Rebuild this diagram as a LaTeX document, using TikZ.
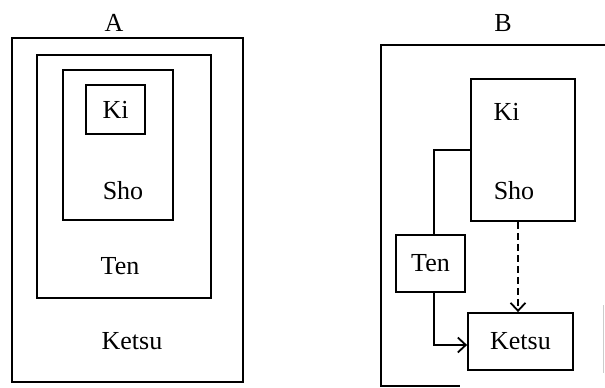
\documentclass[tikz,border=0pt]{standalone}
\usepackage{fontspec}
\setmainfont{Liberation Serif}
\usetikzlibrary{arrows.meta}
\begin{document}
\begin{tikzpicture}[x=1pt,y=-1pt,
  every node/.style={font=\fontsize{26}{30}\selectfont},
  boxa/.style={draw,line width=1.8pt,rectangle,inner sep=0pt},
  lbl/.style={inner sep=0pt},
  conn/.style={line width=1.8pt},
  arr/.style={line width=1.8pt,-{Straight Barb[length=8pt,width=15pt,line width=1.8pt]}}]
\useasboundingbox (0,0) rectangle (605,388);
% Panel A
\node[lbl] (labA) at (114,23) {A};
\node[boxa,minimum width=231pt,minimum height=344pt] (ketsuA) at (127.5,210) {};
\node[boxa,minimum width=174pt,minimum height=243pt] (tenA) at (124,176.5) {};
\node[boxa,minimum width=110pt,minimum height=150pt] (shoA) at (118,145) {};
\node[boxa,minimum width=59pt,minimum height=49pt] (kiA) at (115.5,109.5) {Ki};
\node[lbl] (shoAt) at (123,191) {Sho};
\node[lbl] (tenAt) at (120,266) {Ten};
\node[lbl] (ketsuAt) at (132,341) {Ketsu};
% Panel B
\node[lbl] (labB) at (503,23) {B};
\coordinate (bTR) at (605,45);
\coordinate (bTL) at (381,45);
\coordinate (bBL) at (381,386);
\coordinate (bBR) at (460,386);
\draw[conn] (bTR) -- (bTL) -- (bBL) -- (bBR);
\coordinate (fa) at (603,305);
\coordinate (fb) at (603,373);
\draw[gray!40,line width=1pt] (fa) -- (fb);
\node[boxa,minimum width=104pt,minimum height=142pt] (kishoB) at (523,150) {};
\node[lbl] (kiBt) at (506.5,112) {Ki};
\node[lbl] (shoBt) at (514,191) {Sho};
\node[boxa,minimum width=69pt,minimum height=57pt] (tenB) at (430.5,263.5) {Ten};
\node[boxa,minimum width=105pt,minimum height=57pt] (ketsuB) at (520.5,341.5) {Ketsu};
\draw[conn] ([xshift=3.5pt]tenB.north) |- (kishoB.west);
\draw[arr] ([xshift=3.5pt]tenB.south) |- ([yshift=-3.5pt]ketsuB.west);
\draw[arr,dash pattern=on 7pt off 4pt] ([xshift=-5pt]kishoB.south) -- ([xshift=-2.5pt]ketsuB.north);
\end{tikzpicture}
\end{document}
